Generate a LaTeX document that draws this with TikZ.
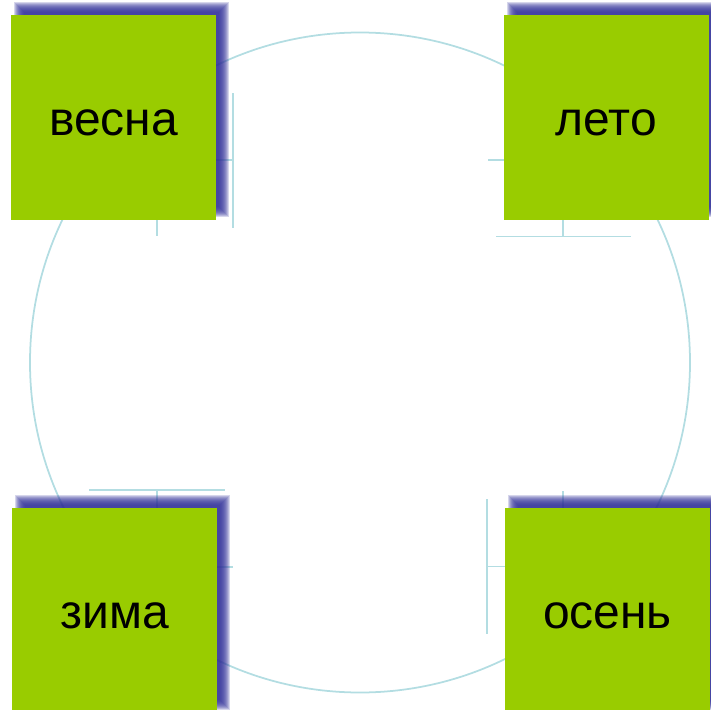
\documentclass[tikz,border=0pt]{standalone}
\usepackage{fontspec}
\setmainfont{Liberation Sans}
\definecolor{seasongreen}{HTML}{99CC00}
\definecolor{shadowblue}{HTML}{33339A}
\definecolor{ringblue}{HTML}{B3DDE2}
\tikzset{
  season/.style={fill=seasongreen, minimum width=4.1cm, minimum height=4.1cm, inner sep=0pt,
    text height=20pt, text depth=0pt, font=\fontsize{27.3}{30}\selectfont},
  ring/.style={draw=ringblue, line width=1.1pt},
}
\begin{document}
\begin{tikzpicture}[x=0.02cm, y=-0.02cm]
\useasboundingbox (0,0) rectangle (711,710);
\clip (0,0) rectangle (711,710);

% big circle behind the seasons
\draw[draw=ringblue, line width=1pt] (360,362.5) circle (330);

% bits of connectors
\draw[ring] (233,93) -- (233,228);
\draw[ring] (216,160) -- (233,160);
\draw[ring] (157,220) -- (157,236);
\draw[ring] (488,160) -- (504,160);
\draw[ring] (496,236.5) -- (631,236.5);
\draw[ring] (563,220) -- (563,236.5);
\draw[ring] (89,490) -- (225,490);
\draw[ring] (157,490) -- (157,508);
\draw[ring] (217,567) -- (233,567);
\draw[ring] (487,499) -- (487,634);
\draw[ring] (487,566.5) -- (505,566.5);
\draw[ring] (563,491) -- (563,508);

% soft shadows
\foreach \cx/\cy in {121.5/109.5, 614.5/109.5, 122.5/602.5, 615.5/602.5}{
  \foreach \k in {-5,...,5}{
    \fill[shadowblue, opacity=0.2]
      (\cx-102.5-\k,\cy-102.5-\k) rectangle (\cx+102.5+\k,\cy+102.5+\k);
  }
}

\node[season] (vesna) at (113.5,117.5) {весна};
\node[season] (leto) at (606.5,117.5) {лето};
\node[season] (zima) at (114.5,610.5) {зима};
\node[season] (osen) at (607.5,610.5) {осень};
\end{tikzpicture}
\end{document}
